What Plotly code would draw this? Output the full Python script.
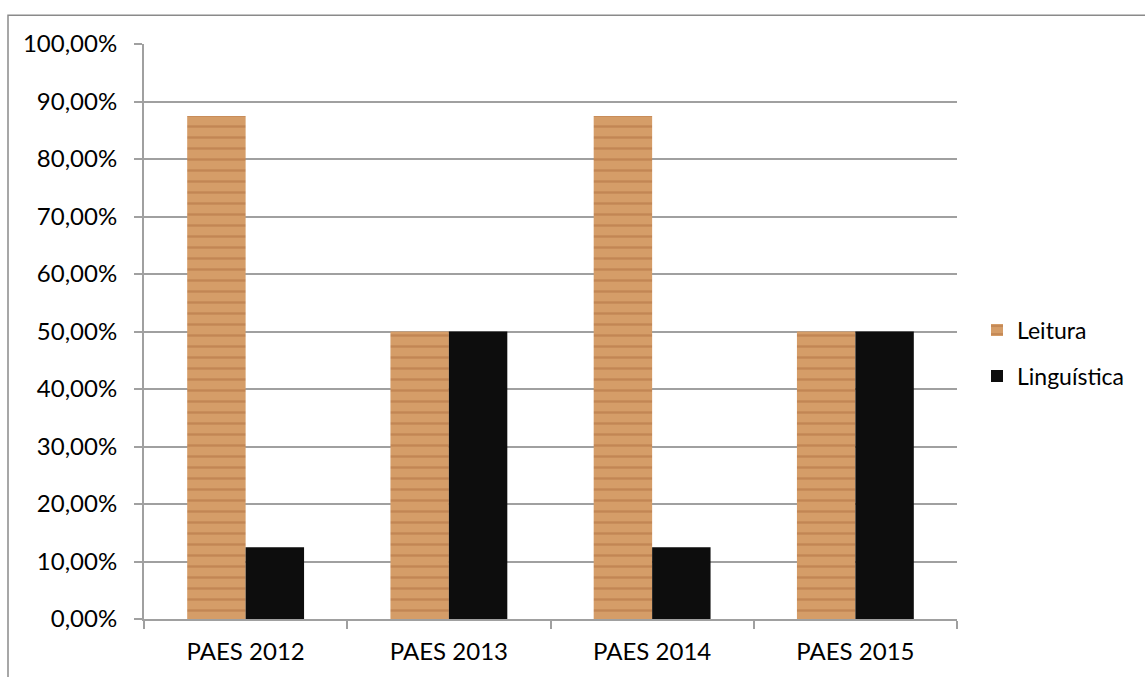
import plotly.graph_objects as go

categories = ["PAES 2012", "PAES 2013", "PAES 2014", "PAES 2015"]
leitura = [0.875, 0.50, 0.875, 0.50]
linguistica = [0.125, 0.50, 0.125, 0.50]

FONT = "Lato"
fig = go.Figure()
fig.add_trace(go.Bar(
    name="Leitura", x=categories, y=leitura, legendgroup="a",
    marker=dict(color="#d49a64", line=dict(width=0),
                pattern=dict(shape="-", bgcolor="#d59d68", fgcolor="#b0703f",
                             size=11, solidity=0.22, fillmode="overlay")),
))
fig.add_trace(go.Bar(
    name="Linguística", x=categories, y=linguistica, legendgroup="b",
    marker=dict(color="#0d0d0d", line=dict(width=0)),
))

W, H = 1145, 677
L, R, T, B = 144, 957, 44, 622
pw, ph = R - L, B - T

def px(x):
    return (x - L) / pw

def py(y):
    return (B - y) / ph

fig.add_shape(type="path", xref="paper", yref="paper",
              path=f"M {px(8)} {py(700)} L {px(8)} {py(15)} L {px(1160)} {py(15)}",
              line=dict(color="#8a8a8a", width=1.5))

fig.update_layout(
    width=W, height=H,
    margin=dict(l=L, r=W - R, t=T, b=H - B),
    paper_bgcolor="white", plot_bgcolor="white",
    barmode="group", bargap=0.425, bargroupgap=0,
    separators=",.",
    font=dict(family=FONT, size=24, color="#000000"),
    showlegend=True,
    legend=dict(x=px(977), y=py(310), xanchor="left", yanchor="top",
                font=dict(family=FONT, size=23), bgcolor="rgba(0,0,0,0)",
                traceorder="grouped", tracegroupgap=13),
)
fig.update_yaxes(
    range=[0, 1], tickvals=[i / 10 for i in range(11)], tickformat=".2%",
    showgrid=True, gridcolor="#a0a0a0", gridwidth=2,
    showline=True, linecolor="#a0a0a0", linewidth=2,
    ticks="outside", ticklen=8, tickcolor="#a0a0a0", tickwidth=2,
    ticklabelstandoff=12, zeroline=False,
)
fig.update_xaxes(
    showline=True, linecolor="#a0a0a0", linewidth=2,
    ticks="outside", ticklen=8, tickcolor="#a0a0a0", tickwidth=2,
    tickson="boundaries", ticklabelstandoff=10, showgrid=False,
)
fig.write_html("out.html")
